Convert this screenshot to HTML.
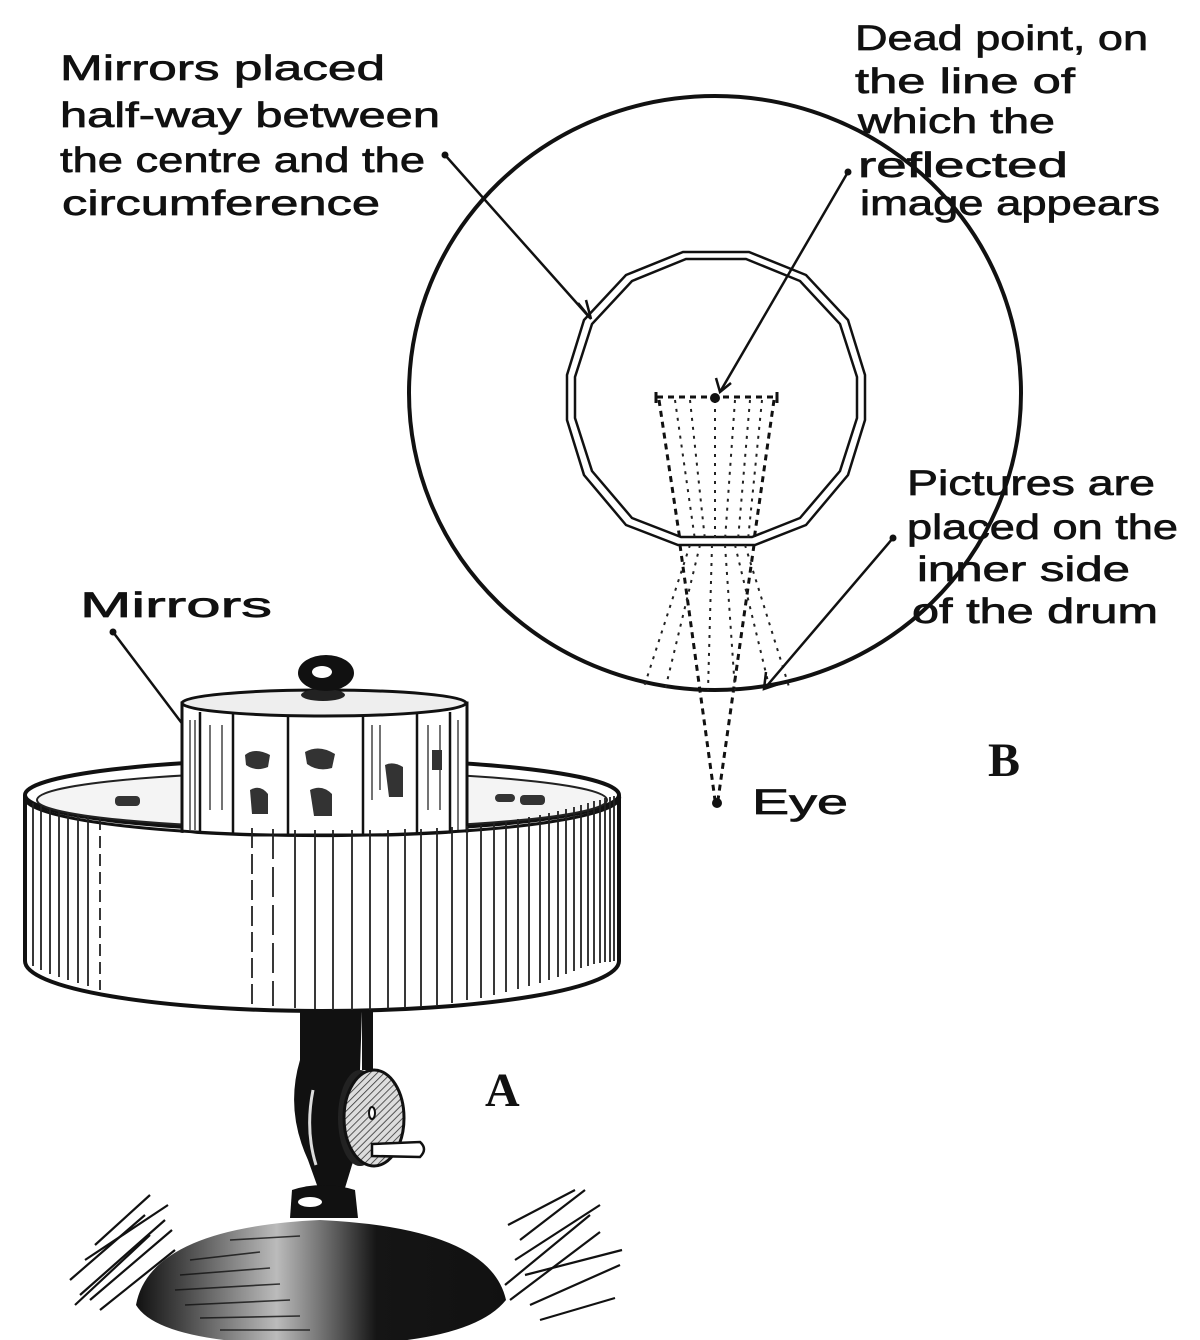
<!DOCTYPE html>
<html><head><meta charset="utf-8"><style>
html,body{margin:0;padding:0;background:#fff;}
svg{display:block;}
text{font-family:"Liberation Sans",sans-serif;fill:#111;}
.lbl{font-size:35px;stroke:#111;stroke-width:0.7px;}
.big{font-family:"Liberation Serif",serif;font-weight:bold;font-size:48px;}
</style></head><body>
<svg width="1200" height="1340" viewBox="0 0 1200 1340" xmlns="http://www.w3.org/2000/svg">
<defs>
<linearGradient id="dome" x1="0" x2="1" y1="0" y2="0">
<stop offset="0" stop-color="#111"/><stop offset="0.12" stop-color="#444"/>
<stop offset="0.38" stop-color="#bbb"/><stop offset="0.55" stop-color="#555"/>
<stop offset="0.65" stop-color="#151515"/><stop offset="1" stop-color="#111"/>
</linearGradient>
<pattern id="hatch" width="5" height="5" patternUnits="userSpaceOnUse" patternTransform="rotate(45)">
<rect width="5" height="5" fill="#ddd"/><line x1="0" y1="0" x2="0" y2="5" stroke="#333" stroke-width="1.6"/>
</pattern>
</defs>

<g class="lbl">
<text x="60" y="80" textLength="325" lengthAdjust="spacingAndGlyphs">Mirrors placed</text>
<text x="60" y="127" textLength="380" lengthAdjust="spacingAndGlyphs">half-way between</text>
<text x="60" y="172" textLength="365" lengthAdjust="spacingAndGlyphs">the centre and the</text>
<text x="62" y="215" textLength="318" lengthAdjust="spacingAndGlyphs">circumference</text>

<text x="855" y="50" textLength="293" lengthAdjust="spacingAndGlyphs">Dead point, on</text>
<text x="855" y="93" textLength="220" lengthAdjust="spacingAndGlyphs">the line of</text>
<text x="858" y="133" textLength="197" lengthAdjust="spacingAndGlyphs">which the</text>
<text x="858" y="177" textLength="210" lengthAdjust="spacingAndGlyphs">reflected</text>
<text x="860" y="215" textLength="300" lengthAdjust="spacingAndGlyphs">image appears</text>

<text x="907" y="495" textLength="248" lengthAdjust="spacingAndGlyphs">Pictures are</text>
<text x="907" y="539" textLength="271" lengthAdjust="spacingAndGlyphs">placed on the</text>
<text x="917" y="581" textLength="213" lengthAdjust="spacingAndGlyphs">inner side</text>
<text x="912" y="623" textLength="246" lengthAdjust="spacingAndGlyphs">of the drum</text>

<text x="80" y="617" textLength="192" lengthAdjust="spacingAndGlyphs">Mirrors</text>
<text x="752" y="814" textLength="96" lengthAdjust="spacingAndGlyphs">Eye</text>
</g>
<text class="big" x="988" y="776">B</text>
<text class="big" x="485" y="1106">A</text>

<ellipse cx="715" cy="393" rx="306" ry="297" fill="none" stroke="#111" stroke-width="4"/>
<g fill="none" stroke="#111" stroke-width="2.5">
<polygon points="683,252 749,252 806,275 848,320 865,375 865,420 848,475 806,525 755,545 678,545 626,525 584,475 567,420 567,375 584,320 626,275"/>
<polygon points="686,259 746,259 800,281 840,324 857,377 857,418 840,471 800,518 752,537 681,537 632,518 592,471 575,418 575,377 592,324 632,281"/>
</g>
<g fill="none" stroke="#111" stroke-width="3" stroke-dasharray="6,5">
<line x1="657" y1="397" x2="777" y2="397"/>
<line x1="659" y1="400" x2="680" y2="540"/>
<line x1="774" y1="400" x2="754" y2="540"/>
<line x1="680" y1="545" x2="715" y2="800"/>
<line x1="754" y1="545" x2="718" y2="800"/>
</g>
<g fill="none" stroke="#222" stroke-width="2" stroke-dasharray="3,6">
<line x1="690" y1="545" x2="643" y2="690"/>
<line x1="700" y1="545" x2="665" y2="690"/>
<line x1="745" y1="545" x2="790" y2="690"/>
<line x1="735" y1="545" x2="770" y2="690"/>
<line x1="712" y1="545" x2="708" y2="690"/>
<line x1="725" y1="545" x2="735" y2="690"/>
<line x1="675" y1="400" x2="695" y2="540"/>
<line x1="690" y1="400" x2="705" y2="540"/>
<line x1="715" y1="400" x2="715" y2="540"/>
<line x1="735" y1="400" x2="725" y2="540"/>
<line x1="750" y1="400" x2="738" y2="540"/>
<line x1="762" y1="400" x2="748" y2="540"/>
</g>
<circle cx="715" cy="398" r="5" fill="#111"/>
<circle cx="717" cy="803" r="5" fill="#111"/>
<line x1="656" y1="392" x2="656" y2="403" stroke="#111" stroke-width="3"/>
<line x1="777" y1="392" x2="777" y2="403" stroke="#111" stroke-width="3"/>

<g stroke="#111" stroke-width="2.5" fill="none">
<line x1="445" y1="155" x2="590" y2="318"/>
<polyline points="578,303 591,319 586,300"/>
<line x1="848" y1="172" x2="720" y2="392"/>
<polyline points="716,378 720,392 731,383"/>
<line x1="893" y1="538" x2="765" y2="688"/>
<polyline points="766,672 764,689 779,684"/>
<line x1="113" y1="632" x2="230" y2="787"/>
</g>
<circle cx="445" cy="155" r="3.5" fill="#111"/>
<circle cx="848" cy="172" r="3.5" fill="#111"/>
<circle cx="893" cy="538" r="3.5" fill="#111"/>
<circle cx="113" cy="632" r="3.5" fill="#111"/>

<ellipse cx="322" cy="795" rx="297" ry="36" fill="#fff" stroke="#111" stroke-width="4"/>
<ellipse cx="322" cy="800" rx="285" ry="28" fill="#f4f4f4" stroke="#222" stroke-width="2"/>
<g fill="#333">
<rect x="115" y="796" width="25" height="10" rx="4"/><rect x="520" y="795" width="25" height="10" rx="4"/>
<rect x="495" y="794" width="20" height="8" rx="4"/>
</g>
<rect x="182" y="703" width="285" height="132" fill="#fff" stroke="#111" stroke-width="3"/>
<ellipse cx="324" cy="703" rx="142" ry="13" fill="#eee" stroke="#111" stroke-width="3"/>
<g stroke="#111" stroke-width="2.5">
<line x1="200" y1="712" x2="200" y2="835"/><line x1="233" y1="714" x2="233" y2="835"/>
<line x1="288" y1="716" x2="288" y2="835"/><line x1="363" y1="716" x2="363" y2="835"/>
<line x1="417" y1="714" x2="417" y2="835"/><line x1="450" y1="712" x2="450" y2="835"/>
</g>
<g stroke="#444" stroke-width="1.5">
<line x1="190" y1="720" x2="190" y2="830"/><line x1="195" y1="720" x2="195" y2="830"/>
<line x1="210" y1="725" x2="210" y2="810"/><line x1="222" y1="725" x2="222" y2="810"/>
<line x1="372" y1="725" x2="372" y2="800"/><line x1="380" y1="725" x2="380" y2="790"/>
<line x1="428" y1="725" x2="428" y2="810"/><line x1="440" y1="725" x2="440" y2="810"/>
<line x1="458" y1="720" x2="458" y2="830"/>
</g>
<g fill="#333">
<path d="M245,755 q10,-8 25,0 l-2,12 q-12,5 -22,-2z"/><path d="M250,790 q10,-6 18,4 l0,20 -16,0z"/>
<path d="M305,752 q14,-8 30,2 l-3,14 q-14,4 -25,-4z"/><path d="M310,790 q12,-6 22,4 l0,22 -18,0z"/>
<path d="M385,765 q8,-4 18,2 l0,30 -14,0z"/><path d="M432,750 l10,0 0,20 -10,0z"/>
</g>
<ellipse cx="323" cy="695" rx="22" ry="6" fill="#222"/>
<ellipse cx="326" cy="673" rx="28" ry="18" fill="#111"/>
<ellipse cx="322" cy="672" rx="10" ry="6" fill="#fff"/>
<path d="M25,795 L25,961 A297,50 0 0 0 619,961 L619,795 A297,40 0 0 1 25,800 Z" fill="#fff" stroke="none"/>
<path d="M25,800 A297,38 0 0 0 619,795" fill="none" stroke="#111" stroke-width="3"/>
<path d="M25,795 L25,961 A297,50 0 0 0 619,961 L619,795" fill="none" stroke="#111" stroke-width="4"/>
<g stroke="#222" stroke-width="1.8">
<line x1="33" y1="803" x2="33" y2="966"/><line x1="41" y1="806" x2="41" y2="970"/>
<line x1="50" y1="808" x2="50" y2="974"/><line x1="59" y1="811" x2="59" y2="977"/>
<line x1="68" y1="813" x2="68" y2="980"/><line x1="78" y1="815" x2="78" y2="983"/>
<line x1="88" y1="817" x2="88" y2="986"/>
<line x1="100" y1="818" x2="100" y2="990" stroke-dasharray="12,6"/>
<line x1="252" y1="828" x2="252" y2="1005" stroke-dasharray="20,6"/>
<line x1="273" y1="829" x2="273" y2="1006" stroke-dasharray="30,8"/>
</g>
<g stroke="#222" stroke-width="1.8">
<line x1="295" y1="830" x2="295" y2="1008"/><line x1="315" y1="830" x2="315" y2="1009"/>
<line x1="333" y1="830" x2="333" y2="1010"/><line x1="352" y1="830" x2="352" y2="1010"/>
<line x1="370" y1="830" x2="370" y2="1010"/><line x1="388" y1="830" x2="388" y2="1009"/>
<line x1="405" y1="829" x2="405" y2="1008"/><line x1="421" y1="829" x2="421" y2="1007"/>
<line x1="437" y1="828" x2="437" y2="1005"/><line x1="452" y1="827" x2="452" y2="1003"/>
<line x1="467" y1="826" x2="467" y2="1000"/><line x1="481" y1="825" x2="481" y2="998"/>
<line x1="494" y1="823" x2="494" y2="995"/><line x1="506" y1="821" x2="506" y2="992"/>
<line x1="518" y1="819" x2="518" y2="989"/><line x1="529" y1="817" x2="529" y2="986"/>
<line x1="540" y1="815" x2="540" y2="983"/><line x1="549" y1="813" x2="549" y2="980"/>
<line x1="558" y1="811" x2="558" y2="977"/><line x1="566" y1="809" x2="566" y2="974"/>
<line x1="574" y1="807" x2="574" y2="971"/><line x1="581" y1="805" x2="581" y2="968"/>
<line x1="588" y1="803" x2="588" y2="966"/><line x1="594" y1="801" x2="594" y2="964"/>
<line x1="600" y1="800" x2="600" y2="963"/><line x1="605" y1="798" x2="605" y2="962"/>
<line x1="610" y1="797" x2="610" y2="962"/><line x1="614" y1="796" x2="614" y2="961"/>
</g>
<path d="M300,1010 L362,1010 L360,1070 Q372,1120 352,1165 L345,1188 L318,1188 L308,1160 Q285,1110 300,1060 Z" fill="#111"/>
<path d="M313,1090 Q305,1130 316,1165" stroke="#ddd" stroke-width="3" fill="none"/>
<rect x="362" y="1010" width="11" height="60" fill="#111"/>
<ellipse cx="360" cy="1118" rx="22" ry="48" fill="#222"/>
<ellipse cx="374" cy="1118" rx="30" ry="48" fill="url(#hatch)" stroke="#111" stroke-width="3"/>
<ellipse cx="372" cy="1113" rx="3" ry="6" fill="#fff" stroke="#111" stroke-width="2"/>
<path d="M372,1144 L420,1142 Q428,1149 420,1157 L372,1156 Z" fill="#fff" stroke="#111" stroke-width="2.5"/>
<path d="M292,1190 Q322,1180 355,1190 L358,1218 L290,1218 Z" fill="#111"/>
<ellipse cx="310" cy="1202" rx="12" ry="5" fill="#fff"/>
<path d="M136,1305 Q150,1228 320,1220 Q490,1228 506,1300 Q470,1345 320,1345 Q160,1345 136,1305 Z" fill="url(#dome)"/>
<g stroke="#111" stroke-width="1.6" opacity="0.8">
<line x1="190" y1="1260" x2="260" y2="1252"/><line x1="180" y1="1275" x2="270" y2="1268"/>
<line x1="175" y1="1290" x2="280" y2="1284"/><line x1="185" y1="1305" x2="290" y2="1300"/>
<line x1="200" y1="1318" x2="300" y2="1316"/><line x1="220" y1="1330" x2="310" y2="1330"/>
<line x1="230" y1="1240" x2="300" y2="1236"/>
</g>
<g stroke="#111" stroke-width="2.2" fill="none">
<line x1="75" y1="1305" x2="150" y2="1235"/><line x1="80" y1="1295" x2="165" y2="1220"/>
<line x1="90" y1="1300" x2="172" y2="1230"/><line x1="95" y1="1245" x2="150" y2="1195"/>
<line x1="70" y1="1280" x2="145" y2="1215"/><line x1="100" y1="1310" x2="175" y2="1250"/>
<line x1="85" y1="1260" x2="168" y2="1205"/>
<line x1="505" y1="1285" x2="590" y2="1215"/><line x1="510" y1="1300" x2="600" y2="1232"/>
<line x1="520" y1="1240" x2="585" y2="1190"/><line x1="515" y1="1260" x2="600" y2="1205"/>
<line x1="530" y1="1305" x2="620" y2="1265"/><line x1="540" y1="1320" x2="615" y2="1298"/>
<line x1="525" y1="1275" x2="622" y2="1250"/><line x1="508" y1="1225" x2="575" y2="1190"/>
</g>
</svg>
</body></html>
